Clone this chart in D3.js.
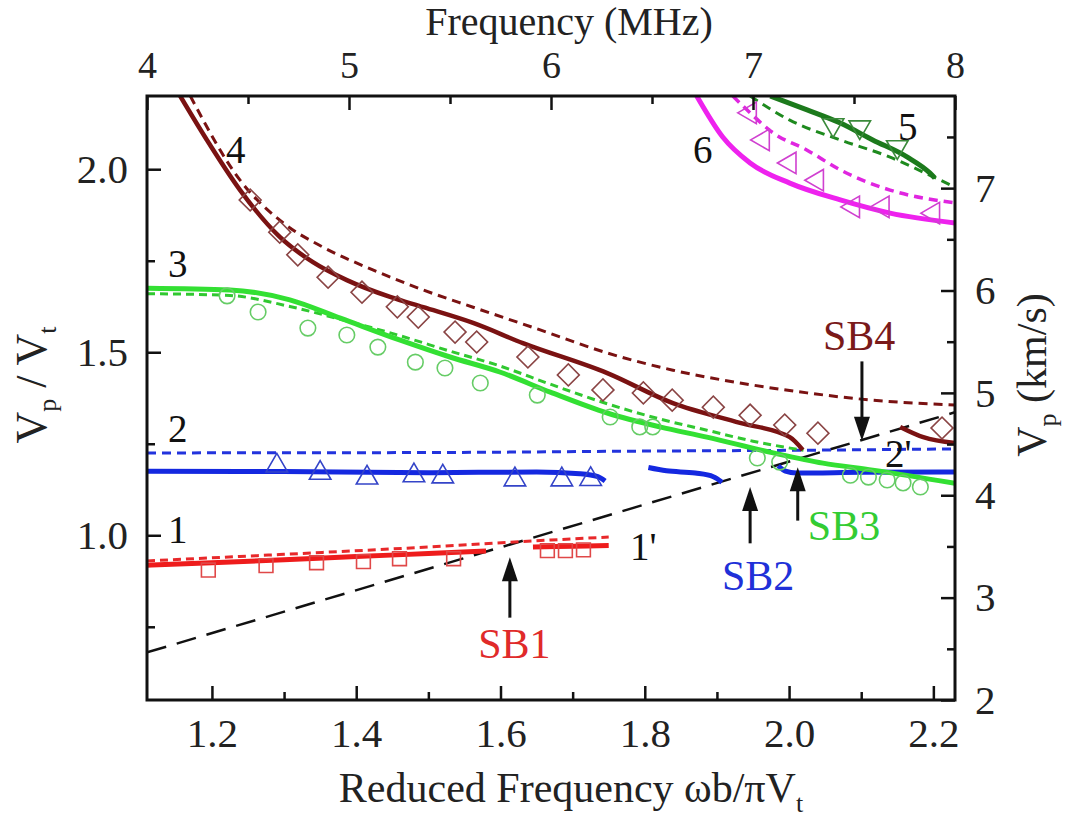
<!DOCTYPE html>
<html>
<head>
<meta charset="utf-8">
<script src="https://cdn.jsdelivr.net/npm/d3@7"></script>
<style>
  body { margin: 0; background: #fff; }
  text { font-family: "Liberation Serif", "DejaVu Serif", serif; }
</style>
</head>
<body>
<div id="chart"></div>
<script>
// Data (x = reduced frequency, y = Vp/Vt)
const mode1Solid = [[1.11, 0.918], [1.2, 0.925], [1.3, 0.933], [1.4, 0.942], [1.5, 0.950], [1.58, 0.957]]
const mode1SolidB = [[1.645, 0.968], [1.70, 0.970], [1.75, 0.972]]
const mode1Dash = [[1.11, 0.930], [1.3, 0.948], [1.5, 0.968], [1.65, 0.985], [1.75, 0.995]]
const mode1Data = [[1.195, 0.905], [1.275, 0.917], [1.345, 0.925], [1.41, 0.928], [1.46, 0.936], [1.535, 0.936], [1.665, 0.958], [1.69, 0.958], [1.715, 0.96]]

const mode2Solid = [[1.11, 1.175], [1.3, 1.174], [1.5, 1.171], [1.65, 1.173], [1.71, 1.168], [1.735, 1.16], [1.745, 1.148]]
const mode2SolidB = [[1.805, 1.185], [1.83, 1.176], [1.87, 1.17], [1.895, 1.16], [1.907, 1.145]]
const mode2SolidC = [[1.985, 1.19], [1.995, 1.175], [2.01, 1.17], [2.1, 1.172], [2.23, 1.173]]
const mode2Dash = [[1.11, 1.225], [1.5, 1.226], [1.8, 1.23], [2.0, 1.232], [2.23, 1.236]]
const mode2Data = [[1.29, 1.19], [1.35, 1.17], [1.415, 1.157], [1.48, 1.163], [1.52, 1.16], [1.62, 1.152], [1.685, 1.152], [1.725, 1.153]]

const mode3Solid = [[1.11, 1.675], [1.225, 1.67], [1.308, 1.643], [1.378, 1.593], [1.461, 1.533], [1.53, 1.487], [1.599, 1.446], [1.669, 1.391], [1.748, 1.334], [1.821, 1.296], [1.886, 1.268], [1.978, 1.225], [2.047, 1.197], [2.116, 1.178], [2.23, 1.142]]
const mode3Dash = [[1.11, 1.66], [1.225, 1.655], [1.308, 1.625], [1.378, 1.59], [1.461, 1.545], [1.53, 1.503], [1.6, 1.462], [1.67, 1.412], [1.75, 1.358], [1.82, 1.318], [1.886, 1.287], [1.95, 1.257], [2.02, 1.232]]
const mode3Data = [[1.221, 1.654], [1.264, 1.61], [1.333, 1.566], [1.387, 1.547], [1.43, 1.514], [1.482, 1.473], [1.523, 1.457], [1.572, 1.416], [1.651, 1.383], [1.752, 1.323], [1.793, 1.296], [1.811, 1.296], [1.956, 1.211], [1.987, 1.2], [2.085, 1.164], [2.11, 1.159], [2.136, 1.151], [2.158, 1.143], [2.182, 1.132]]

const mode4Solid = [[1.156, 2.2], [1.193, 2.08], [1.239, 1.943], [1.294, 1.815], [1.34, 1.746], [1.387, 1.697], [1.447, 1.651], [1.493, 1.623], [1.562, 1.58], [1.631, 1.525], [1.748, 1.443], [1.839, 1.361], [1.932, 1.307], [2.001, 1.268], [2.019, 1.233]]
const mode4SolidB = [[2.154, 1.296], [2.186, 1.268], [2.23, 1.252]]
const mode4Dash = [[1.17, 2.2], [1.239, 1.97], [1.299, 1.853], [1.354, 1.787], [1.423, 1.725], [1.493, 1.67], [1.562, 1.623], [1.655, 1.561], [1.748, 1.498], [1.839, 1.451], [1.932, 1.416], [2.025, 1.389], [2.116, 1.369], [2.23, 1.356]]
const mode4Data = [[1.253, 1.916], [1.294, 1.828], [1.319, 1.766], [1.361, 1.705], [1.408, 1.664], [1.457, 1.624], [1.486, 1.596], [1.537, 1.555], [1.567, 1.528], [1.638, 1.487], [1.694, 1.438], [1.742, 1.397], [1.798, 1.389], [1.838, 1.369], [1.895, 1.35], [1.946, 1.328], [1.994, 1.301], [2.04, 1.279], [2.212, 1.293]]

const mode5Solid = [[1.974, 2.2], [2.025, 2.162], [2.071, 2.126], [2.116, 2.08], [2.164, 2.033], [2.195, 1.99], [2.202, 1.976]]
const mode5Dash = [[1.946, 2.2], [2.001, 2.134], [2.071, 2.08], [2.14, 2.033], [2.2, 1.979], [2.23, 1.951]]
const mode5Data = [[2.061, 2.121], [2.098, 2.115], [2.15, 2.061]]

const mode6Solid = [[1.872, 2.2], [1.908, 2.088], [1.946, 2.017], [2.001, 1.962], [2.071, 1.916], [2.14, 1.88], [2.23, 1.853]]
const mode6Dash = [[1.922, 2.2], [1.946, 2.154], [1.978, 2.099], [2.025, 2.052], [2.071, 1.998], [2.14, 1.943], [2.23, 1.908]]
const mode6Data = [[1.946, 2.154], [1.964, 2.08], [2.001, 2.017], [2.039, 1.97], [2.089, 1.897], [2.13, 1.897], [2.2, 1.88]]

const lightLine = [[1.11, 0.68], [2.23, 1.336]]

const bottomTicks = [1.2, 1.4, 1.6, 1.8, 2.0, 2.2]
const bottomMinor = [1.3, 1.5, 1.7, 1.9, 2.1]
const topTicks = [4, 5, 6, 7, 8]
const topMinor = [4.5, 5.5, 6.5, 7.5]
const leftTicks = [1.0, 1.5, 2.0]
const leftMinor = [0.75, 1.25, 1.75]
const rightTicks = [2, 3, 4, 5, 6, 7]
const rightMinor = [2.5, 3.5, 4.5, 5.5, 6.5, 7.5]

function draw() {
  const dimensions = { width: 1070, height: 821, left: 147, right: 955, top: 96, bottom: 700 }

  const svg = d3.select('#chart')
    .append('svg')
    .attr('width', dimensions.width)
    .attr('height', dimensions.height)

  // Scales
  const xScale = d3.scaleLinear().domain([1.11, 2.23]).range([dimensions.left, dimensions.right])
  const fScale = d3.scaleLinear().domain([4, 8]).range([dimensions.left, dimensions.right])
  const yScale = d3.scaleLinear().domain([0.55, 2.2]).range([dimensions.bottom, dimensions.top])
  const vScale = d3.scaleLinear().domain([2, 7.9]).range([dimensions.bottom, dimensions.top])

  svg.append('clipPath').attr('id', 'plot')
    .append('rect')
    .attr('x', dimensions.left).attr('y', dimensions.top)
    .attr('width', dimensions.right - dimensions.left)
    .attr('height', dimensions.bottom - dimensions.top)

  const ctr = svg.append('g').attr('clip-path', 'url(#plot)')
  const line = d3.line().x(d => xScale(d[0])).y(d => yScale(d[1])).curve(d3.curveMonotoneX)

  const curves = [
    { data: lightLine, color: '#111', width: 2.5, dash: '20,11' },
    { data: mode1Dash, color: '#e8282a', width: 3, dash: '8,5' },
    { data: mode1Solid, color: '#ee1c1c', width: 5 },
    { data: mode1SolidB, color: '#ee1c1c', width: 5 },
    { data: mode2Dash, color: '#2233dd', width: 3, dash: '9,6' },
    { data: mode2Solid, color: '#1428e0', width: 5 },
    { data: mode2SolidB, color: '#1428e0', width: 5 },
    { data: mode2SolidC, color: '#1428e0', width: 5 },
    { data: mode3Dash, color: '#30c830', width: 3, dash: '8,5' },
    { data: mode3Solid, color: '#33e033', width: 5 },
    { data: mode4Dash, color: '#7a1212', width: 3, dash: '9,6' },
    { data: mode4Solid, color: '#7a1212', width: 4.5 },
    { data: mode4SolidB, color: '#7a1212', width: 4.5 },
    { data: mode5Dash, color: '#1e8a1e', width: 3, dash: '9,6' },
    { data: mode5Solid, color: '#1c7a1c', width: 5 },
    { data: mode6Dash, color: '#e026e0', width: 3.5, dash: '9,6' },
    { data: mode6Solid, color: '#ee22ee', width: 5 }
  ]

  ctr.selectAll('path.curve')
    .data(curves)
    .join('path')
    .attr('class', 'curve')
    .attr('d', d => line(d.data))
    .attr('fill', 'none')
    .attr('stroke', d => d.color)
    .attr('stroke-width', d => d.width)
    .attr('stroke-dasharray', d => d.dash || null)

  // Measured points (open symbols)
  const markers = [
    { data: mode1Data, type: d3.symbolSquare, size: 190, rot: 0, color: '#e04848' },
    { data: mode2Data, type: d3.symbolTriangle, size: 200, rot: 0, color: '#3444c8' },
    { data: mode3Data, type: d3.symbolCircle, size: 190, rot: 0, color: '#66cc66' },
    { data: mode4Data, type: d3.symbolSquare, size: 240, rot: 45, color: '#8a4444' },
    { data: mode5Data, type: d3.symbolTriangle, size: 200, rot: 180, color: '#3a8a3a' },
    { data: mode6Data, type: d3.symbolTriangle, size: 200, rot: -90, color: '#d040d0' }
  ]

  markers.forEach(m => {
    ctr.append('g').selectAll('path')
      .data(m.data)
      .join('path')
      .attr('d', d3.symbol().type(m.type).size(m.size))
      .attr('transform', d => `translate(${xScale(d[0])},${yScale(d[1])}) rotate(${m.rot})`)
      .attr('fill', 'none')
      .attr('stroke', m.color)
      .attr('stroke-width', 1.6)
  })

  // Frame
  svg.append('rect')
    .attr('x', dimensions.left).attr('y', dimensions.top)
    .attr('width', dimensions.right - dimensions.left)
    .attr('height', dimensions.bottom - dimensions.top)
    .attr('fill', 'none').attr('stroke', '#111').attr('stroke-width', 3)

  // Axes (inward ticks)
  const styleAxis = size => g => {
    g.select('.domain').remove()
    g.selectAll('line').attr('stroke', '#111').attr('stroke-width', 2.5)
    g.selectAll('text').attr('font-size', size).attr('fill', '#222')
      .attr('font-family', '"Liberation Serif", serif')
  }

  svg.append('g').attr('transform', `translate(0,${dimensions.bottom})`)
    .call(d3.axisBottom(xScale).tickValues(bottomTicks).tickSize(-14).tickPadding(18).tickFormat(d3.format('.1f')))
    .call(styleAxis(41))
  svg.append('g').attr('transform', `translate(0,${dimensions.bottom})`)
    .call(d3.axisBottom(xScale).tickValues(bottomMinor).tickSize(-8).tickFormat(''))
    .call(styleAxis(41))

  svg.append('g').attr('transform', `translate(0,${dimensions.top})`)
    .call(d3.axisTop(fScale).tickValues(topTicks).tickSize(-14).tickPadding(18).tickFormat(d3.format('d')))
    .call(styleAxis(38))
  svg.append('g').attr('transform', `translate(0,${dimensions.top})`)
    .call(d3.axisTop(fScale).tickValues(topMinor).tickSize(-8).tickFormat(''))
    .call(styleAxis(38))

  svg.append('g').attr('transform', `translate(${dimensions.left},0)`)
    .call(d3.axisLeft(yScale).tickValues(leftTicks).tickSize(-14).tickPadding(19).tickFormat(d3.format('.1f')))
    .call(styleAxis(41))
  svg.append('g').attr('transform', `translate(${dimensions.left},0)`)
    .call(d3.axisLeft(yScale).tickValues(leftMinor).tickSize(-8).tickFormat(''))
    .call(styleAxis(41))

  svg.append('g').attr('transform', `translate(${dimensions.right},0)`)
    .call(d3.axisRight(vScale).tickValues(rightTicks).tickSize(-14).tickPadding(20).tickFormat(d3.format('d')))
    .call(styleAxis(41))
  svg.append('g').attr('transform', `translate(${dimensions.right},0)`)
    .call(d3.axisRight(vScale).tickValues(rightMinor).tickSize(-8).tickFormat(''))
    .call(styleAxis(41))

  // Axis titles
  svg.append('text')
    .attr('x', 569).attr('y', 35)
    .attr('text-anchor', 'middle').attr('font-size', 40).attr('fill', '#222')
    .text('Frequency (MHz)')

  const bottomTitle = svg.append('text')
    .attr('x', 571).attr('y', 802)
    .attr('text-anchor', 'middle').attr('font-size', 42).attr('fill', '#222')
  bottomTitle.append('tspan').text('Reduced Frequency ωb/πV')
  bottomTitle.append('tspan').attr('dy', 10).attr('font-size', 26).text('t')

  const leftTitle = svg.append('text')
    .attr('transform', 'translate(46,385) rotate(-90)')
    .attr('text-anchor', 'middle').attr('font-size', 44).attr('fill', '#222')
  leftTitle.append('tspan').text('V')
  leftTitle.append('tspan').attr('dy', 10).attr('font-size', 26).text('p')
  leftTitle.append('tspan').attr('dy', -10).text(' / V')
  leftTitle.append('tspan').attr('dy', 10).attr('font-size', 26).text('t')

  const rightTitle = svg.append('text')
    .attr('transform', 'translate(1046,375) rotate(-90)')
    .attr('text-anchor', 'middle').attr('font-size', 42).attr('fill', '#222')
  rightTitle.append('tspan').text('V')
  rightTitle.append('tspan').attr('dy', 10).attr('font-size', 26).text('p')
  rightTitle.append('tspan').attr('dy', -10).text(' (km/s)')

  // Mode labels
  const modeLabels = [
    { t: '1', x: 1.139, y: 0.979 },
    { t: "1'", x: 1.7795, y: 0.932 },
    { t: '2', x: 1.139, y: 1.255 },
    { t: "2'", x: 2.133, y: 1.186 },
    { t: '3', x: 1.139, y: 1.705 },
    { t: '4', x: 1.2195, y: 2.017 },
    { t: '5', x: 2.151, y: 2.08 },
    { t: '6', x: 1.867, y: 2.017 }
  ]
  svg.append('g').selectAll('text')
    .data(modeLabels)
    .join('text')
    .attr('x', d => xScale(d.x)).attr('y', d => yScale(d.y))
    .attr('font-family', '"Liberation Sans", Arial, sans-serif')
    .attr('font-size', 39).attr('fill', '#111')
    .text(d => d.t)

  // Stop band labels and arrows
  const bands = [
    { t: 'SB1', color: '#e02a2a', tx: 1.569, ty: 0.664, ax: 1.613, y0: 0.775, y1: 0.94, up: true },
    { t: 'SB2', color: '#2030d8', tx: 1.907, ty: 0.85, ax: 1.946, y0: 0.978, y1: 1.132, up: true },
    { t: 'SB3', color: '#33cc33', tx: 2.026, ty: 0.987, ax: 2.012, y0: 1.04, y1: 1.186, up: true },
    { t: 'SB4', color: '#7a1a1a', tx: 2.047, ty: 1.506, ax: 2.101, y0: 1.475, y1: 1.258, up: false }
  ]
  bands.forEach(b => {
    svg.append('text')
      .attr('x', xScale(b.tx)).attr('y', yScale(b.ty))
      .attr('font-size', 42).attr('fill', b.color)
      .text(b.t)
    const x = xScale(b.ax)
    const yStart = yScale(b.y0)
    const yTip = yScale(b.y1)
    const dir = b.up ? 1 : -1
    svg.append('line')
      .attr('x1', x).attr('x2', x)
      .attr('y1', yStart).attr('y2', yTip + dir * 18)
      .attr('stroke', '#111').attr('stroke-width', 3)
    svg.append('path')
      .attr('d', `M${x},${yTip} L${x - 8},${yTip + dir * 24} L${x + 8},${yTip + dir * 24} Z`)
      .attr('fill', '#111')
  })
}

draw()
</script>
</body>
</html>
